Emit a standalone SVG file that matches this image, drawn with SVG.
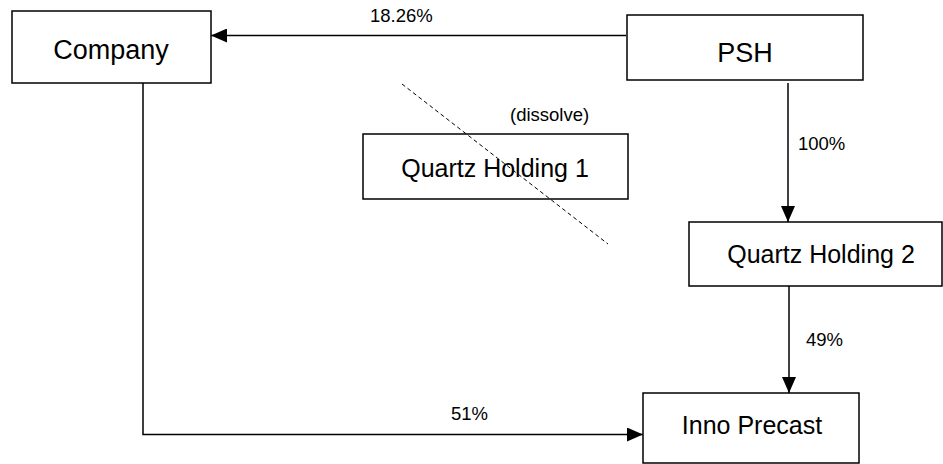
<svg xmlns="http://www.w3.org/2000/svg" width="943" height="464" viewBox="0 0 943 464">
<defs>
<style>
.box{fill:#fff;stroke:#000;stroke-width:1.5}
.big{font-family:"Liberation Sans",Arial,sans-serif;font-size:27px;fill:#000;text-anchor:middle}
.mid{font-family:"Liberation Sans",Arial,sans-serif;font-size:25px;fill:#000;text-anchor:middle}
.lbl{font-family:"Liberation Sans",Arial,sans-serif;font-size:18.5px;fill:#000}
.ln{fill:none;stroke:#000;stroke-width:1.5}
.dash{fill:none;stroke:#000;stroke-width:1;stroke-dasharray:4 3}
</style>
<marker id="arr" viewBox="0 0 16 14" refX="16" refY="7" markerWidth="16" markerHeight="14" markerUnits="userSpaceOnUse" orient="auto">
<path d="M0,0 L16,7 L0,14 Z" fill="#000"/>
</marker>
</defs>
<rect width="943" height="464" fill="#fff"/>
<g id="connectors">
<path class="ln" d="M626,35.5 L211,35.5" marker-end="url(#arr)"/>
<path class="ln" d="M788,83 L788,222" marker-end="url(#arr)"/>
<path class="ln" d="M789,286 L789,393" marker-end="url(#arr)"/>
<path class="ln" d="M143,83 L143,434.5 L643,434.5" marker-end="url(#arr)"/>
<text class="lbl" x="370" y="22">18.26%</text>
<text class="lbl" x="798" y="150">100%</text>
<text class="lbl" x="806" y="346">49%</text>
<text class="lbl" x="451" y="420">51%</text>
</g>
<g id="company">
<rect class="box" x="12" y="11" width="199" height="72"/>
<text class="big" x="111" y="59">Company</text>
</g>
<g id="psh">
<rect class="box" x="627" y="15" width="236" height="65"/>
<text class="big" x="745" y="62">PSH</text>
</g>
<g id="quartz1">
<rect class="box" x="363" y="134" width="265" height="65"/>
<text class="mid" x="495" y="177">Quartz Holding 1</text>
<text class="lbl" x="510" y="121">(dissolve)</text>
<path class="dash" d="M402,84 L608,244"/>
</g>
<g id="quartz2">
<rect class="box" x="689" y="222" width="253" height="64"/>
<text class="mid" x="821" y="263">Quartz Holding 2</text>
</g>
<g id="inno">
<rect class="box" x="643" y="393" width="216" height="70"/>
<text class="mid" x="752" y="434">Inno Precast</text>
</g>
</svg>
